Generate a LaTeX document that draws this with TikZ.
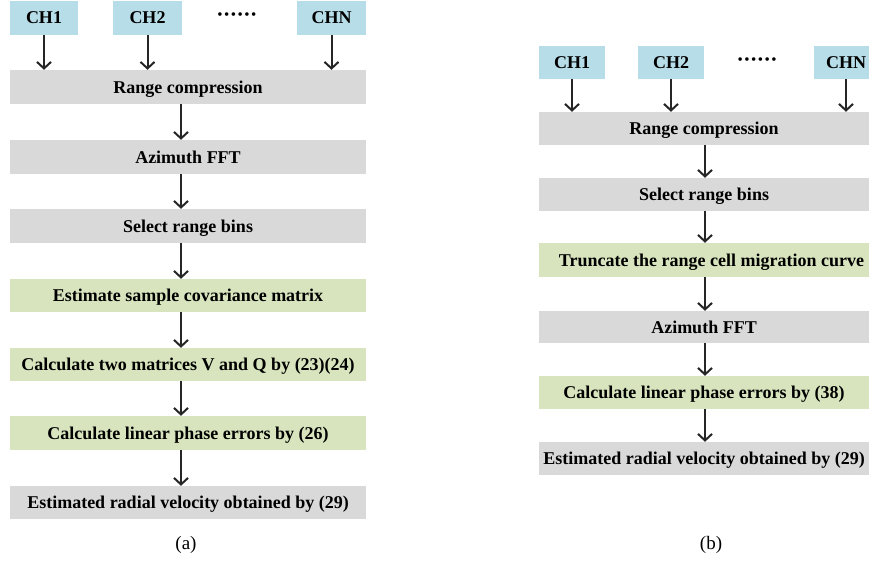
\documentclass[tikz,border=0pt]{standalone}
\usepackage{fontspec}
\setmainfont{Liberation Serif}
\usetikzlibrary{arrows.meta}
\definecolor{chblue}{RGB}{183,221,232}
\definecolor{boxgray}{RGB}{217,217,217}
\definecolor{boxgreen}{RGB}{215,228,189}
\newcommand{\boxfont}{\bfseries\fontsize{18}{20}\selectfont}
\newcommand{\mydots}{\fontsize{15}{17}\selectfont\textbullet\kern1.5pt\textbullet\kern1.5pt\textbullet\kern1.5pt\textbullet\kern1.5pt\textbullet\kern1.5pt\textbullet}
\tikzset{
  chbox/.style={fill=chblue, font=\boxfont, inner sep=0pt, text depth=-1.5pt},
  graybox/.style={fill=boxgray, font=\boxfont, inner sep=0pt, text depth=-1.5pt},
  greenbox/.style={fill=boxgreen, font=\boxfont, inner sep=0pt, text depth=-1.5pt},
  arr/.style={-{Straight Barb[length=6.5pt,width=14pt,line width=2pt]}, line width=2pt, black!85},
  captext/.style={font=\fontsize{19}{21}\selectfont}
}
\begin{document}
\begin{tikzpicture}[x=1pt,y=-1pt]
\useasboundingbox (0,0) rectangle (869,563);
% ---- panel (a)
\node[chbox, minimum width=68pt, minimum height=34pt] (a1) at (44,18) {CH1};
\node[chbox, minimum width=69pt, minimum height=34pt] (a2) at (147.5,18) {CH2};
\node[chbox, minimum width=69pt, minimum height=34pt] (an) at (331.5,18) {CHN};
\node[inner sep=0pt] (adots) at (237,16) {\mydots};
\node[graybox, minimum width=356pt, minimum height=34pt] (ar) at (188,87) {Range compression};
\node[graybox, minimum width=356pt, minimum height=34pt] (aaz) at (188,157) {Azimuth FFT};
\node[graybox, minimum width=356pt, minimum height=34pt] (asel) at (188,226) {Select range bins};
\node[greenbox, minimum width=356pt, minimum height=33pt] (aest) at (188,295.5) {Estimate sample covariance matrix};
\node[greenbox, minimum width=356pt, minimum height=33pt] (acal) at (188,364.5) {Calculate two matrices V and Q by (23)(24)};
\node[greenbox, minimum width=356pt, minimum height=34pt] (alin) at (188,433) {Calculate linear phase errors by (26)};
\node[graybox, minimum width=356pt, minimum height=33pt] (avel) at (188,502.5) {Estimated radial velocity obtained by (29)};
\node[captext] (acap) at (186,545) {(a)};
\draw[arr] (a1.south) -- (a1.south |- ar.north);
\draw[arr] (a2.south) -- (a2.south |- ar.north);
\draw[arr] (an.south) -- (an.south |- ar.north);
\coordinate (ax) at (181,0);
\draw[arr] (ax |- ar.south) -- (ax |- aaz.north);
\draw[arr] (ax |- aaz.south) -- (ax |- asel.north);
\draw[arr] (ax |- asel.south) -- (ax |- aest.north);
\draw[arr] (ax |- aest.south) -- (ax |- acal.north);
\draw[arr] (ax |- acal.south) -- (ax |- alin.north);
\draw[arr] (ax |- alin.south) -- (ax |- avel.north);
% ---- panel (b)
\node[chbox, minimum width=66pt, minimum height=33pt] (b1) at (572,62.5) {CH1};
\node[chbox, minimum width=66pt, minimum height=33pt] (b2) at (671,62.5) {CH2};
\node[chbox, minimum width=56pt, minimum height=33pt, text width=56pt, align=left] (bn) at (842,62.5) {\hspace*{12pt}CHN};
\node[inner sep=0pt] (bdots) at (757,61) {\mydots};
\node[graybox, minimum width=330pt, minimum height=33pt] (br) at (704,128.5) {Range compression};
\node[graybox, minimum width=330pt, minimum height=33pt] (bsel) at (704,194.5) {Select range bins};
\node[greenbox, minimum width=330pt, minimum height=34pt] (btr) at (704,260) {\hspace*{15pt}Truncate the range cell migration curve};
\node[graybox, minimum width=330pt, minimum height=32pt] (baz) at (704,327) {Azimuth FFT};
\node[greenbox, minimum width=330pt, minimum height=33pt] (blin) at (704,392.5) {Calculate linear phase errors by (38)};
\node[graybox, minimum width=330pt, minimum height=33pt] (bvel) at (704,458.5) {Estimated radial velocity obtained by (29)};
\node[captext] (bcap) at (711,545) {(b)};
\draw[arr] (b1.south) -- (b1.south |- br.north);
\draw[arr] (b2.south) -- (b2.south |- br.north);
\coordinate (bnx) at (846,0);
\draw[arr] (bnx |- bn.south) -- (bnx |- br.north);
\coordinate (bx) at (705,0);
\draw[arr] (bx |- br.south) -- (bx |- bsel.north);
\draw[arr] (bx |- bsel.south) -- (bx |- btr.north);
\draw[arr] (bx |- btr.south) -- (bx |- baz.north);
\draw[arr] (bx |- baz.south) -- (bx |- blin.north);
\draw[arr] (bx |- blin.south) -- (bx |- bvel.north);
\end{tikzpicture}
\end{document}
